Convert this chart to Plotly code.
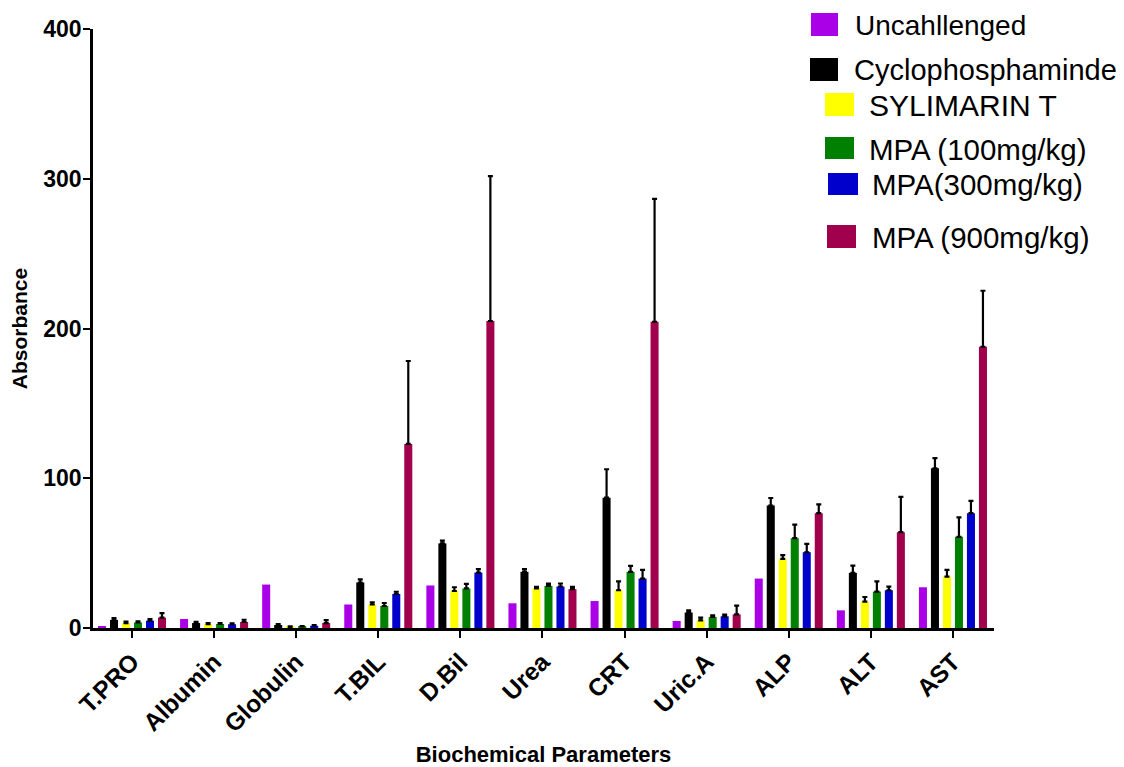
import plotly.graph_objects as go

categories = ["T.PRO", "Albumin", "Globulin", "T.BIL", "D.Bil", "Urea", "CRT", "Uric.A", "ALP", "ALT", "AST"]

series_names = ["Uncahllenged", "Cyclophosphaminde", "SYLIMARIN T", "MPA (100mg/kg)", "MPA(300mg/kg)", "MPA (900mg/kg)"]
series_colors = ["#AA00E8", "#000000", "#FFFF00", "#008000", "#0000CC", "#A0004C"]

unchallenged = [0.8, 6.0, 29.0, 15.7, 28.4, 16.5, 18.0, 4.7, 33.0, 11.8, 27.2]
cyclo = [5.4, 3.3, 2.0, 30.4, 56.5, 37.5, 87.0, 10.3, 81.8, 36.8, 106.6]
cyclo_err = [1.2, 0.8, 0.6, 2.1, 1.8, 1.8, 19.0, 1.5, 5.0, 4.9, 6.8]
sylimarin = [3.3, 2.5, 0.8, 15.7, 24.7, 26.5, 25.2, 5.1, 46.2, 17.6, 34.3]
sylimarin_err = [1.0, 0.7, 0.3, 1.5, 2.5, 1.0, 6.0, 1.8, 2.4, 3.1, 4.5]
mpa100 = [3.7, 2.7, 1.0, 14.7, 26.4, 28.1, 37.5, 7.4, 60.0, 24.3, 60.9]
mpa100_err = [0.8, 0.5, 0.3, 2.0, 3.0, 1.5, 4.0, 1.0, 9.0, 6.9, 13.0]
mpa300 = [4.9, 2.5, 1.5, 22.7, 37.0, 27.7, 33.0, 7.8, 50.6, 25.2, 76.7]
mpa300_err = [1.0, 0.6, 0.5, 1.5, 2.3, 2.0, 5.8, 1.2, 5.6, 2.4, 8.2]
mpa900 = [6.9, 4.0, 3.3, 122.9, 205.0, 25.9, 204.5, 9.1, 76.7, 64.0, 187.8]
mpa900_err = [3.0, 1.5, 2.0, 55.4, 96.8, 1.5, 82.0, 5.8, 5.8, 23.6, 37.4]

values = [unchallenged, cyclo, sylimarin, mpa100, mpa300, mpa900]
errors = [None, cyclo_err, sylimarin_err, mpa100_err, mpa300_err, mpa900_err]

y_ticks = [0, 100, 200, 300, 400]

FONT = "Arial, Liberation Sans, sans-serif"

fig = go.Figure()
for name, color, vals, err in zip(series_names, series_colors, values, errors):
    kw = {}
    if err is not None:
        kw["error_y"] = dict(type="data", array=err, arrayminus=[0] * len(err),
                             symmetric=False, color="#000000", thickness=2.2, width=2.5)
    fig.add_trace(go.Bar(x=categories, y=vals, name=name, marker_color=color,
                         marker_line_width=0, showlegend=False, **kw))

# the page body adds an 8px offset; figure coordinates are shifted accordingly
OFF = 8
W, H = 1124 - OFF, 767 - OFF
L, R, T, B = 93 - OFF, 994 - OFF, 29 - OFF, 628 - OFF


def px(xp):
    return (xp - OFF - L) / (R - L)


def py(yp):
    return (B - (yp - OFF)) / (B - T)


# manual legend (swatch rect in page px, text x px, text center y px, font size)
legend_layout = [
    ((811, 13, 838, 36), 853, 25, 28),
    ((810, 58, 838, 81), 852, 70, 29),
    ((825, 93, 854, 116), 867, 105, 30),
    ((825, 137, 854, 159), 867, 149, 29.5),
    ((828, 173, 858, 195), 870, 185, 29.5),
    ((827, 225, 856, 248), 870, 237, 29.5),
]
shapes = []
annotations = []
for (name, color), ((x0, y0, x1, y1), tx, ty, fs) in zip(zip(series_names, series_colors), legend_layout):
    shapes.append(dict(type="rect", xref="paper", yref="paper", x0=px(x0), x1=px(x1),
                       y0=py(y1), y1=py(y0), fillcolor=color, line=dict(width=0)))
    annotations.append(dict(text=name, xref="paper", yref="paper", x=px(tx), y=py(ty),
                            xanchor="left", yanchor="middle", showarrow=False,
                            font=dict(family=FONT, size=fs, color="#000000")))

fig.update_layout(
    width=W, height=H,
    margin=dict(l=L, r=W - R, t=T, b=H - B, pad=0, autoexpand=False),
    paper_bgcolor="white", plot_bgcolor="white",
    barmode="group", bargap=0.123, bargroupgap=0.33,
    shapes=shapes, annotations=annotations,
    font=dict(family=FONT, color="#000000"),
    xaxis=dict(
        range=[-0.475, 10.5], showline=True, linecolor="#000000", linewidth=2.5,
        ticks="outside", ticklen=7, tickwidth=2, tickcolor="#000000",
        tickangle=-45, tickfont=dict(family=FONT, size=24.5, color="#000000", weight="bold"),
        showgrid=False, zeroline=False, automargin=False,
        title=dict(text="<b>Biochemical Parameters</b>", font=dict(family=FONT, size=22), standoff=12),
    ),
    yaxis=dict(
        range=[0, 400], tickvals=y_ticks, showline=True, linecolor="#000000", linewidth=2.5,
        ticks="outside", ticklen=7, tickwidth=2, tickcolor="#000000", ticklabelstandoff=-3,
        tickfont=dict(family=FONT, size=23, color="#000000", weight="bold"),
        showgrid=False, zeroline=False, automargin=False,
        title=dict(text="<b>Absorbance</b>", font=dict(family=FONT, size=21), standoff=16),
    ),
)

fig.write_html("out.html")
